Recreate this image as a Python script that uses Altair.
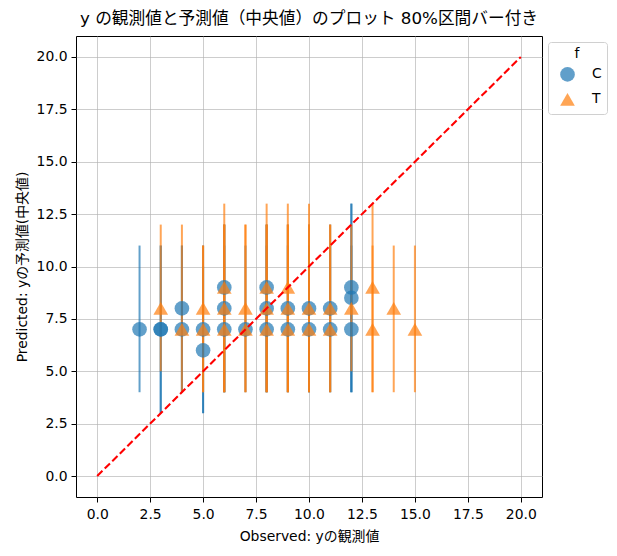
import altair as alt
import pandas as pd

groups = ["C", "T"]
colors = ["#1f77b4", "#ff7f0e"]
shapes = ["circle", "triangle-up"]

# group C: observed y, predicted median, 80% interval (lo, hi)
c_obs = [2, 3, 3, 4, 4, 5, 5, 6, 6, 6, 7, 8, 8, 8, 9, 9, 10, 10, 11, 11, 12, 12, 12]
c_med = [7, 7, 7, 8, 7, 7, 6, 9, 8, 7, 7, 9, 8, 7, 8, 7, 8, 7, 8, 7, 9, 8.5, 7]
c_lo = [4, 3, 3, 4, 4, 3, 3, 4, 4, 4, 4, 4, 4, 4, 4, 4, 4, 4, 4, 4, 4, 4, 4]
c_hi = [11, 11, 11, 11, 11, 11, 10, 12, 12, 11, 11, 12, 12, 11, 12, 11, 12, 11, 12, 11, 13, 13, 11]

# group T
t_obs = [3, 4, 5, 5, 6, 6, 6, 7, 7, 8, 8, 8, 9, 9, 9, 10, 10, 11, 11, 12, 13, 13, 14, 15]
t_med = [8, 7, 8, 7, 9, 8, 7, 8, 7, 9, 8, 7, 9, 8, 7, 8, 7, 8, 7, 8, 9, 7, 8, 7]
t_lo = [5, 4, 4, 4, 4, 4, 4, 4, 4, 4, 4, 4, 4, 4, 4, 4, 4, 4, 4, 5, 4, 4, 4, 4]
t_hi = [12, 12, 11, 11, 13, 12, 12, 12, 12, 13, 12, 12, 13, 12, 12, 13, 12, 12, 12, 12, 13, 11, 11, 11]

diag = [0, 20]
ticks = [0, 2.5, 5, 7.5, 10, 12.5, 15, 17.5, 20]

df = pd.concat([
    pd.DataFrame({"obs": c_obs, "med": c_med, "lo": c_lo, "hi": c_hi, "f": groups[0]}),
    pd.DataFrame({"obs": t_obs, "med": t_med, "lo": t_lo, "hi": t_hi, "f": groups[1]}),
], ignore_index=True)
diag_df = pd.DataFrame({"d": diag})

FONT = "DejaVu Sans, Noto Sans CJK JP"

xs = alt.Scale(domain=[-1, 21], nice=False, zero=False)
ys = alt.Scale(domain=[-1, 21], nice=False, zero=False)
xax = alt.Axis(values=ticks, format=".1f", title="Observed: yの観測値",
               titlePadding=8, labelPadding=5.5)
yax = alt.Axis(values=ticks, format=".1f", title="Predicted: yの予測値(中央値)",
               titlePadding=7, labelPadding=4)

legend = alt.Legend(
    title="f", orient="none", legendX=472, legendY=6,
    titleAnchor="middle", titleAlign="center", titleFontSize=13.9, titleFontWeight="normal",
    titlePadding=5,
    labelFontSize=13.9, labelOffset=16, symbolSize=215, symbolOpacity=0.7, symbolOffset=6,
    rowPadding=5, padding=5, strokeColor="#d0d0d0", fillColor="white", cornerRadius=3,
)
cscale = alt.Scale(domain=groups, range=colors)
sscale = alt.Scale(domain=groups, range=shapes)

base = alt.Chart(df)


def bars(g, col):
    return base.transform_filter(alt.datum.f == g).mark_rule(
        strokeWidth=2, opacity=0.7, color=col
    ).encode(
        x=alt.X("obs:Q", scale=xs, axis=xax),
        y=alt.Y("lo:Q", scale=ys, axis=yax),
        y2="hi:Q",
    )


rules_c = bars(groups[0], colors[0])
rules_t = bars(groups[1], colors[1])

points = base.mark_point(filled=True, size=215, opacity=0.7).encode(
    x=alt.X("obs:Q", scale=xs, axis=xax),
    y=alt.Y("med:Q", scale=ys, axis=yax),
    color=alt.Color("f:N", scale=cscale, legend=legend),
    shape=alt.Shape("f:N", scale=sscale, legend=legend),
)
line = alt.Chart(diag_df).mark_line(color="red", strokeDash=[7.4, 3.2], strokeWidth=2.1).encode(
    x=alt.X("d:Q", scale=xs, axis=xax),
    y=alt.Y("d:Q", scale=ys, axis=yax),
)

chart = alt.layer(rules_c, rules_t, points, line).properties(
    width=466, height=461,
    autosize=alt.AutoSizeParams(type="none"),
    padding={"left": 68, "top": 28, "right": 67, "bottom": 54},
    title=alt.TitleParams(
        text="y の観測値と予測値（中央値）のプロット 80%区間バー付き",
        fontSize=16.7, fontWeight="normal", anchor="middle", offset=8,
        frame="group", font=FONT, color="black",
    ),
).configure(font=FONT).configure_view(
    stroke="black", strokeWidth=1
).configure_axis(
    labelFont=FONT, titleFont=FONT, labelFontSize=13.9, titleFontSize=13.9,
    labelColor="black", titleColor="black", titleFontWeight="normal",
    tickColor="black", tickSize=5, tickWidth=1, domain=False,
    grid=True, gridColor="#b0b0b0", gridWidth=0.8, gridOpacity=0.8,
    labelFlush=False,
).configure_legend(
    labelFont=FONT, titleFont=FONT, labelColor="black", titleColor="black",
)

chart.save("out.html", embed_options={"renderer": "svg", "actions": False})
